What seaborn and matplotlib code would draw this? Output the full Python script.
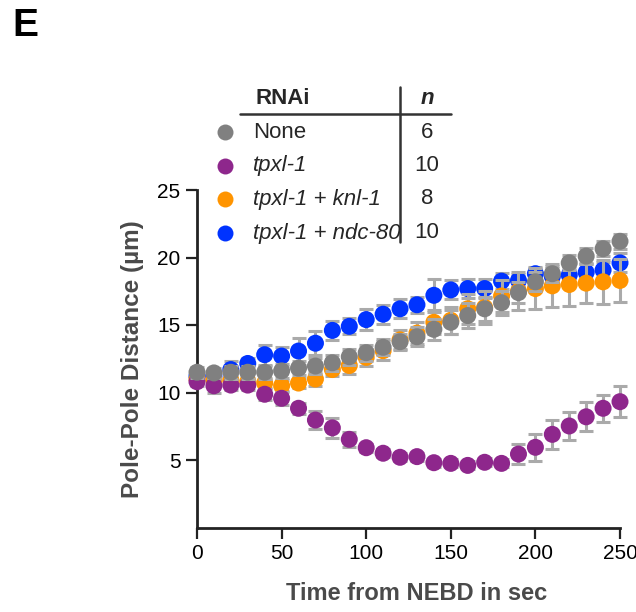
import numpy as np
import pandas as pd
import seaborn as sns
import matplotlib
matplotlib.use("Agg")
import matplotlib.pyplot as plt
from matplotlib.lines import Line2D

time_s = list(range(0, 251, 10))

none_mean = [11.5, 11.45, 11.5, 11.5, 11.5, 11.6, 11.8, 11.96, 12.2, 12.65, 12.95, 13.35, 13.76,
             14.13, 14.68, 15.2, 15.7, 16.2, 16.65, 17.4, 18.2, 18.8, 19.6, 20.1, 20.65, 21.2]
none_err = [0.4, 0.4, 0.5, 0.5, 0.5, 0.5, 0.5, 0.6, 0.6, 0.6, 0.6, 0.6, 0.6,
            0.7, 0.8, 0.9, 0.9, 0.9, 0.9, 0.8, 0.7, 0.6, 0.56, 0.6, 0.55, 0.55]

tpxl_mean = [10.8, 10.5, 10.55, 10.55, 9.87, 9.57, 8.83, 7.96, 7.38, 6.53, 5.91, 5.5, 5.2,
             5.25, 4.8, 4.75, 4.6, 4.83, 4.75, 5.44, 5.94, 6.9, 7.52, 8.2, 8.83, 9.32]
tpxl_err = [0.3, 0.5, 0.4, 0.4, 0.4, 0.5, 0.4, 0.67, 0.75, 0.55, 0.3, 0.3, 0.3,
            0.3, 0.3, 0.3, 0.3, 0.3, 0.3, 0.75, 1.0, 1.1, 1.07, 1.08, 0.99, 1.15]

knl_mean = [11.0, 10.9, 10.9, 10.8, 10.7, 10.5, 10.7, 11.0, 11.7, 12.0, 12.6, 13.1, 13.9,
            14.4, 15.2, 15.35, 16.2, 16.3, 17.15, 17.5, 17.7, 17.9, 18.0, 18.1, 18.2, 18.3]
knl_err = [0.3, 0.3, 0.3, 0.3, 0.4, 0.4, 0.4, 0.5, 0.5, 0.6, 0.6, 0.7, 0.7,
           0.8, 0.9, 1.0, 1.1, 1.2, 1.2, 1.4, 1.5, 1.6, 1.6, 1.5, 1.65, 1.6]

ndc_mean = [11.2, 11.2, 11.7, 12.15, 12.8, 12.7, 13.07, 13.65, 14.6, 14.9, 15.4, 15.8, 16.2,
            16.5, 17.2, 17.6, 17.7, 17.7, 18.25, 18.3, 18.8, 18.6, 18.7, 18.9, 19.07, 19.6]
ndc_err = [0.3, 0.3, 0.6, 0.4, 0.75, 0.7, 1.0, 0.9, 0.7, 0.6, 0.8, 0.7, 0.7,
           0.6, 1.2, 0.7, 0.7, 0.7, 0.6, 0.5, 0.5, 0.6, 0.5, 0.6, 0.6, 0.7]

labels = ["None", "tpxl-1", "tpxl-1 + knl-1", "tpxl-1 + ndc-80"]
n_values = ["6", "10", "8", "10"]
colors = {"None": "#808080", "tpxl-1": "#8e278c",
          "tpxl-1 + knl-1": "#ff9400", "tpxl-1 + ndc-80": "#0033ff"}
means = {"None": none_mean, "tpxl-1": tpxl_mean,
         "tpxl-1 + knl-1": knl_mean, "tpxl-1 + ndc-80": ndc_mean}
errs = {"None": none_err, "tpxl-1": tpxl_err,
        "tpxl-1 + knl-1": knl_err, "tpxl-1 + ndc-80": ndc_err}
draw_order = ["tpxl-1 + ndc-80", "tpxl-1 + knl-1", "tpxl-1", "None"]

sns.set_theme(style="ticks")
plt.rcParams["font.family"] = ["Liberation Sans", "DejaVu Sans"]

W, H = 636, 612
fig = plt.figure(figsize=(W / 100, H / 100), dpi=100)
ax = fig.add_axes([197 / W, 1 - 527.5 / H, (620 - 197) / W, (527.5 - 190) / H])

for i, name in enumerate(draw_order):
    df = pd.DataFrame({"t": time_s, "d": means[name], "e": errs[name]})
    ax.errorbar(df["t"], df["d"], yerr=df["e"], fmt="none", ecolor="#aaaaaa",
                elinewidth=2.2, capsize=5, capthick=2.2, zorder=3 + 2 * i, clip_on=False)
    sns.scatterplot(data=df, x="t", y="d", ax=ax, color=colors[name], s=150,
                    edgecolor="none", linewidth=0, zorder=4 + 2 * i, clip_on=False)

ax.set_xlim(0, 250)
ax.set_ylim(0, 25)
ax.set_xticks([0, 50, 100, 150, 200, 250])
ax.set_yticks([5, 10, 15, 20, 25])
for s in ["top", "right"]:
    ax.spines[s].set_visible(False)
for s in ["left", "bottom"]:
    ax.spines[s].set_linewidth(2)
    ax.spines[s].set_color("#222222")
ax.tick_params(axis="both", length=8, width=1.6, color="#222222", labelsize=15,
               labelcolor="black", pad=4, direction="out")
ax.set_xlabel("Time from NEBD in sec", fontsize=17, fontweight="bold", color="#4a4a4a")
ax.set_ylabel("Pole-Pole Distance (\u00b5m)", fontsize=17.5, fontweight="bold", color="#4a4a4a")
ax.xaxis.set_label_coords((417 - 197) / (620 - 197), -(593 - 527.5) / (527.5 - 190))
ax.yaxis.set_label_coords(-(197 - 132) / (620 - 197), (527.5 - 359) / (527.5 - 190))
ax.xaxis.label.set_va("center")
ax.yaxis.label.set_va("center")

# Panel letter
fig.text(12 / W, 1 - 26 / H, "E", fontsize=28, fontweight="bold", color="black",
         ha="left", va="center")

# Table-style legend
def fx(px):
    return px / W

def fy(py):
    return 1 - py / H

fs = 16
fig.text(fx(283), fy(98), "RNAi", fontsize=fs, fontweight="bold", ha="center", va="center")
fig.text(fx(427), fy(98), "n", fontsize=fs, fontweight="bold", fontstyle="italic",
         ha="center", va="center")
fig.add_artist(Line2D([fx(240), fx(451)], [fy(114), fy(114)], color="#333333", lw=1.8))
fig.add_artist(Line2D([fx(400), fx(400)], [fy(87), fy(242)], color="#333333", lw=1.8))
row_y = [132, 166, 199, 233]
for name, nv, ry in zip(labels, n_values, row_y):
    fig.add_artist(Line2D([fx(225)], [fy(ry)], marker="o", markersize=11.5, color=colors[name],
                          markeredgewidth=0, linestyle="none"))
    style = "normal" if name == "None" else "italic"
    fig.text(fx(253), fy(ry), name, fontsize=fs, fontstyle=style, ha="left", va="center")
    fig.text(fx(427), fy(ry), nv, fontsize=fs, ha="center", va="center")

fig.savefig("out.png", dpi=100)
